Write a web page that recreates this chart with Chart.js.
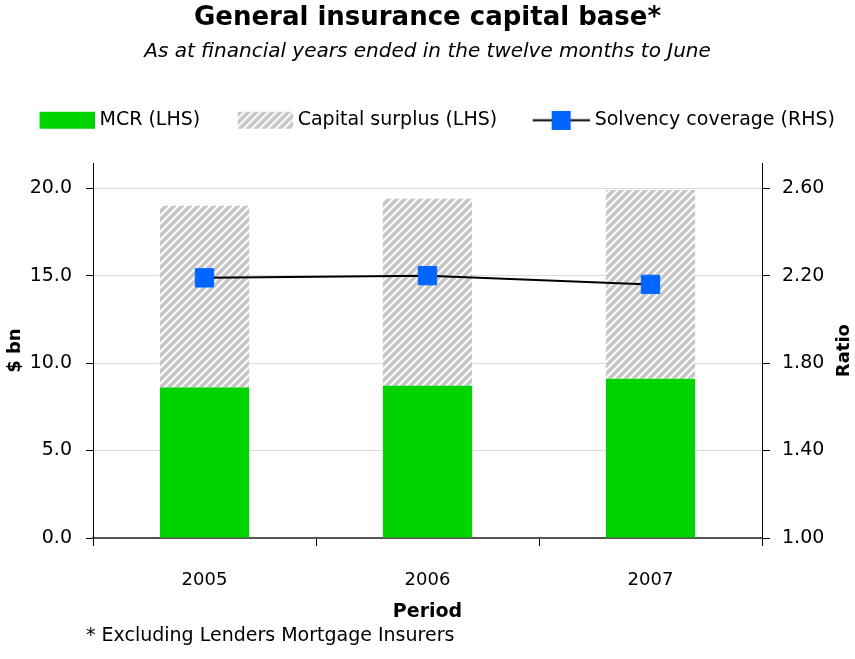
<!DOCTYPE html>
<html>
<head>
<meta charset="utf-8">
<script src="https://cdn.jsdelivr.net/npm/chart.js@4.4.1/dist/chart.umd.min.js"></script>
<style>
  html, body { margin: 0; padding: 0; background: #fff; }
  #wrap { width: 855px; height: 659px; }
</style>
</head>
<body>
<div id="wrap"><canvas id="capitalChart"></canvas></div>
<script>
const periods = ["2005", "2006", "2007"];
const mcr = [8.6, 8.7, 9.1];
const capitalSurplus = [10.4, 10.7, 10.8];
const solvencyCoverage = [2.19, 2.2, 2.16];
const leftTicks = [0, 5, 10, 15, 20];
const rightTicks = [1.0, 1.4, 1.8, 2.2, 2.6];

Chart.defaults.font.family = "'DejaVu Sans', Verdana, sans-serif";
Chart.defaults.color = "#000";

// grey hatch with white "/" stripes
function hatchTile() {
  const c = document.createElement("canvas");
  c.width = 8;
  c.height = 8;
  const g = c.getContext("2d");
  g.fillStyle = "#c6c6c6";
  g.fillRect(0, 0, 8, 8);
  g.strokeStyle = "#fff";
  g.lineWidth = 2;
  g.beginPath();
  g.moveTo(-1, 1); g.lineTo(1, -1);
  g.moveTo(0, 8); g.lineTo(8, 0);
  g.moveTo(7, 9); g.lineTo(9, 7);
  g.stroke();
  return c;
}
const tile = hatchTile();
const ctx = document.getElementById("capitalChart").getContext("2d");
const hatch = ctx.createPattern(tile, "repeat");

// legend icons, box sits at the right edge so it hugs the text
const iconW = 70 + 9;
function makeIcon(kind) {
  const c = document.createElement("canvas");
  c.width = iconW;
  c.height = 19;
  const g = c.getContext("2d");
  if (kind === "line") {
    g.strokeStyle = "#000";
    g.lineWidth = 2;
    g.beginPath();
    g.moveTo(iconW - 57, 9.5);
    g.lineTo(iconW, 9.5);
    g.stroke();
    g.fillStyle = "#0066ff";
    g.fillRect(iconW - 57 + 19, 0, 19, 19);
  } else {
    g.fillStyle = kind === "hatch" ? g.createPattern(tile, "repeat") : "#00d400";
    g.fillRect(iconW - 55, 1, 55, 17);
  }
  return c;
}
const legendIcons = [makeIcon("solid"), makeIcon("hatch"), makeIcon("line")];

const extraText = {
  id: "extraText",
  afterDraw(chart) {
    const { ctx, chartArea, scales } = chart;
    ctx.save();
    ctx.fillStyle = "#000";
    ctx.textBaseline = "middle";
    ctx.font = "bold 18px 'DejaVu Sans'";
    ctx.textAlign = "center";
    ctx.translate(scales.y1.right - 11, (chartArea.top + chartArea.bottom) / 2);
    ctx.rotate(-Math.PI / 2);
    ctx.fillText("Ratio", 0, 0);
    ctx.restore();

    ctx.save();
    ctx.fillStyle = "#000";
    ctx.textBaseline = "middle";
    ctx.textAlign = "left";
    ctx.font = "19px 'DejaVu Sans'";
    ctx.fillText("* Excluding Lenders Mortgage Insurers", 86, chart.height - 23);
    ctx.restore();
  },
};

const capitalChart = new Chart(ctx, {
  type: "bar",
  data: {
    labels: periods,
    datasets: [
      {
        label: "MCR (LHS)",
        data: mcr,
        backgroundColor: "#00d400",
        barPercentage: 0.4,
        categoryPercentage: 1,
        yAxisID: "y",
        order: 1,
      },
      {
        label: "Capital surplus (LHS)",
        data: capitalSurplus,
        backgroundColor: hatch,
        barPercentage: 0.4,
        categoryPercentage: 1,
        yAxisID: "y",
        order: 1,
      },
      {
        type: "line",
        label: "Solvency coverage (RHS)",
        data: solvencyCoverage,
        borderColor: "#000",
        borderWidth: 2,
        pointStyle: "rect",
        pointRadius: 13,
        pointBackgroundColor: "#0066ff",
        pointBorderColor: "#0066ff",
        pointBorderWidth: 1,
        fill: false,
        tension: 0,
        yAxisID: "y1",
        order: 0,
      },
    ],
  },
  options: {
    responsive: true,
    maintainAspectRatio: false,
    animation: false,
    layout: { padding: { top: 0, left: 0, right: 0, bottom: 36 } },
    plugins: {
      title: {
        display: true,
        text: "General insurance capital base*",
        font: { size: 26, weight: "bold" },
        padding: { top: 3, bottom: 0 },
      },
      subtitle: {
        display: true,
        text: "As at financial years ended in the twelve months to June",
        font: { size: 20, style: "italic" },
        padding: { top: 6, bottom: 28.5 },
      },
      legend: {
        position: "top",
        labels: {
          usePointStyle: true,
          pointStyleWidth: 70,
          padding: 18,
          font: { size: 19 },
          color: "#000",
          sort: (a, b) => a.datasetIndex - b.datasetIndex,
          generateLabels: (chart) => {
            const items = Chart.registry.getPlugin("legend").defaults.labels.generateLabels(chart);
            items.forEach((it) => { it.pointStyle = legendIcons[it.datasetIndex]; });
            return items;
          },
        },
      },
      tooltip: { enabled: false },
    },
    scales: {
      x: {
        stacked: true,
        grid: { offset: true, drawOnChartArea: false, tickLength: 8, tickColor: "#000" },
        border: { color: "#555", width: 2 },
        ticks: { font: { size: 18 }, padding: 24 },
        title: {
          display: true,
          text: "Period",
          font: { size: 19, weight: "bold" },
          padding: { top: 0, bottom: 0 },
        },
        afterFit: (s) => { s.height = 85; },
      },
      xTop: {
        type: "category",
        position: "top",
        display: true,
        grid: { display: false },
        border: { display: false },
        ticks: { display: false },
        afterFit: (s) => { s.height = 23.5; },
      },
      y: {
        stacked: true,
        position: "left",
        min: 0,
        max: 21.43,
        grid: { color: "#d9d9d9", tickColor: "#000", tickLength: 7 },
        border: { color: "#000", width: 1 },
        ticks: { font: { size: 19 }, padding: 14, callback: (v) => v.toFixed(1) },
        afterBuildTicks: (s) => { s.ticks = leftTicks.map((v) => ({ value: v })); },
        title: {
          display: true,
          text: "$ bn",
          font: { size: 18, weight: "bold" },
          padding: { top: 5 },
        },
        afterFit: (s) => { s.width = 93; },
      },
      y1: {
        position: "right",
        min: 1,
        max: 2.7144,
        grid: { drawOnChartArea: false, tickColor: "#000", tickLength: 8 },
        border: { color: "#000", width: 1 },
        ticks: { font: { size: 19 }, padding: 12, callback: (v) => v.toFixed(2) },
        afterBuildTicks: (s) => { s.ticks = rightTicks.map((v) => ({ value: v })); },
        afterFit: (s) => { s.width = 93; },
      },
    },
  },
  plugins: [extraText],
});
</script>
</body>
</html>
